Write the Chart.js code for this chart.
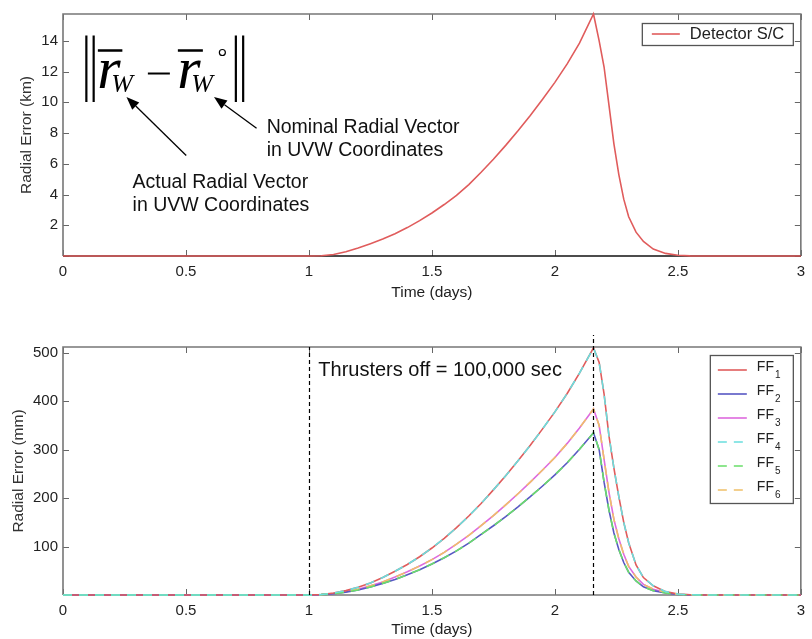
<!DOCTYPE html>
<html>
<head>
<meta charset="utf-8">
<script src="https://cdn.jsdelivr.net/npm/chart.js@4/dist/chart.umd.min.js"></script>
<style>
  html, body { margin: 0; padding: 0; background: #fff; }
  #page { position: relative; width: 812px; height: 639px; overflow: hidden; }
  #page canvas { position: absolute; left: 0; }
</style>
</head>
<body>
<div id="page">
  <canvas id="detectorChart" width="812" height="305" style="top:0"></canvas>
  <canvas id="formationChart" width="812" height="319" style="top:320px"></canvas>
</div>
<script>
// Sample times (days) shared by every series
const TIME_DAYS = [0, 0.5, 1.0, 1.05, 1.1, 1.15, 1.2, 1.25, 1.3, 1.35, 1.4, 1.45, 1.5, 1.55, 1.6, 1.65,
  1.7, 1.75, 1.8, 1.85, 1.9, 1.95, 2.0, 2.05, 2.1, 2.157, 2.18, 2.2, 2.22, 2.24, 2.26, 2.28, 2.3,
  2.33, 2.36, 2.4, 2.45, 2.5, 2.55, 2.6, 3.0];

// Detector spacecraft radial error (km)
const DETECTOR_KM = [0, 0, 0, 0.02, 0.1, 0.28, 0.52, 0.8, 1.1, 1.45, 1.85, 2.3, 2.8, 3.35, 3.95, 4.65,
  5.45, 6.3, 7.2, 8.15, 9.15, 10.2, 11.3, 12.5, 13.85, 15.75, 14.0, 12.3, 9.8, 7.3, 5.3, 3.7, 2.55,
  1.55, 0.95, 0.45, 0.17, 0.05, 0.01, 0, 0];

// Formation flyer radial errors (mm)
const FF1_MM = [0, 0, 0, 1, 4, 9, 16, 25, 36, 49, 63, 79, 97, 117, 139, 163,
  189, 217, 246, 277, 309, 343, 378, 416, 458, 510, 480, 415, 328, 262, 203, 150, 108,
  62, 36, 19, 7, 2, 0.5, 0, 0];
const FF2_MM = [0, 0, 0, 0.7, 2.6, 6, 10.5, 16.5, 24, 32, 42, 52, 64, 77, 91, 107,
  125, 143, 162, 182, 203, 225, 248, 273, 301, 335, 300, 233, 175, 128, 94, 67, 47,
  29, 17, 9, 4, 1, 0.3, 0, 0];
const FF3_MM = [0, 0, 0, 0.8, 3, 7, 12, 19, 27, 37, 48, 60, 73, 88, 105, 123,
  143, 164, 186, 209, 233, 258, 284, 313, 345, 384, 350, 280, 212, 156, 116, 84, 59,
  37, 22, 12, 5, 1.5, 0.4, 0, 0];
const FF4_MM = [0, 0, 0, 1, 4, 9, 16, 25, 36, 49, 63, 79, 97, 117, 139, 163,
  189, 217, 246, 277, 309, 343, 378, 416, 458, 510, 480, 415, 328, 262, 203, 150, 108,
  62, 36, 19, 7, 2, 0.5, 0, 0];
const FF5_MM = [0, 0, 0, 0.7, 2.6, 6, 10.5, 16.5, 24, 32, 42, 52, 64, 77, 91, 107,
  125, 143, 162, 182, 203, 225, 248, 273, 301, 335, 300, 233, 175, 128, 94, 67, 47,
  29, 17, 9, 4, 1, 0.3, 0, 0];
const FF6_MM = [0, 0, 0, 0.8, 3, 7, 12, 19, 27, 37, 48, 60, 73, 88, 105, 123,
  143, 164, 186, 209, 233, 258, 284, 313, 345, 384, 350, 280, 212, 156, 116, 84, 59,
  37, 22, 12, 5, 1.5, 0.4, 0, 0];

const SERIES_NAMES = ['FF1', 'FF2', 'FF3', 'FF4', 'FF5', 'FF6'];

// Axis ticks
const TIME_TICKS = [0, 0.5, 1, 1.5, 2, 2.5, 3];
const KM_TICKS = [0, 2, 4, 6, 8, 10, 12, 14];
const MM_TICKS = [0, 100, 200, 300, 400, 500];

// Thrusters-off window: start of coast and end (start + 100,000 s)
const THRUST_OFF_DAYS = [1.0, 2.157];

const pairs = (xs, ys) => xs.map((t, i) => ({ x: t, y: ys[i] }));

const SANS = 'Liberation Sans';
const TICK_FONT = { family: SANS, size: 15 };
const TEXT_COLOR = '#222';

// Box frame with inward tick marks on all four sides, drawn beneath the data
const boxFrame = {
  id: 'boxFrame',
  beforeDatasetsDraw(chart, args, opts) {
    const { ctx, chartArea: a, scales: { x, y } } = chart;
    ctx.save();
    ctx.strokeStyle = '#666';
    ctx.lineWidth = 1;
    const L = 6;
    ctx.beginPath();
    x.ticks.forEach(t => {
      const px = Math.round(x.getPixelForValue(t.value)) + 0.5;
      ctx.moveTo(px, a.bottom); ctx.lineTo(px, a.bottom - L);
      ctx.moveTo(px, a.top); ctx.lineTo(px, a.top + L);
    });
    y.ticks.forEach(t => {
      const py = Math.round(y.getPixelForValue(t.value)) + 0.5;
      ctx.moveTo(a.left, py); ctx.lineTo(a.left + L, py);
      ctx.moveTo(a.right, py); ctx.lineTo(a.right - L, py);
    });
    ctx.stroke();
    ctx.lineWidth = 1.6;
    ctx.strokeStyle = '#777';
    ctx.beginPath();
    ctx.moveTo(a.left, a.bottom); ctx.lineTo(a.left, a.top); ctx.lineTo(a.right, a.top); ctx.lineTo(a.right, a.bottom);
    ctx.stroke();
    ctx.strokeStyle = opts.baseColor || '#777';
    ctx.beginPath();
    ctx.moveTo(a.left, a.bottom); ctx.lineTo(a.right, a.bottom);
    ctx.stroke();
    ctx.restore();
  }
};

// Legend box inside the plot's upper right corner
const cornerLegend = {
  id: 'cornerLegend',
  afterDraw(chart, args, opts) {
    const { ctx, chartArea: a } = chart;
    const ds = chart.data.datasets;
    ctx.save();
    const left = a.right - opts.right - opts.width;
    const top = a.top + opts.top;
    ctx.fillStyle = '#fff';
    ctx.fillRect(left, top, opts.width, opts.height);
    ctx.strokeStyle = '#555';
    ctx.lineWidth = 1.3;
    ctx.strokeRect(left + 0.5, top + 0.5, opts.width, opts.height);
    ds.forEach((d, i) => {
      const cy = top + opts.firstRow + i * opts.rowGap;
      ctx.strokeStyle = d.borderColor;
      ctx.lineWidth = d.borderWidth;
      ctx.setLineDash(d.borderDash || []);
      ctx.beginPath();
      ctx.moveTo(left + opts.sampleX, cy);
      ctx.lineTo(left + opts.sampleX + opts.sampleLen, cy);
      ctx.stroke();
      ctx.setLineDash([]);
      ctx.fillStyle = TEXT_COLOR;
      ctx.textAlign = 'left';
      const m = /^(\D+)(\d+)$/.exec(d.label);
      const tx = left + opts.textX;
      if (m && opts.subscript) {
        ctx.font = opts.font;
        ctx.textBaseline = 'alphabetic';
        ctx.fillText(m[1], tx, cy + 1);
        const w = ctx.measureText(m[1]).width;
        ctx.font = opts.subFont;
        ctx.fillText(m[2], tx + w + 1, cy + 8);
      } else {
        ctx.font = opts.font;
        ctx.textBaseline = 'middle';
        ctx.fillText(d.label, tx, cy + 0.5);
      }
    });
    ctx.restore();
  }
};

function arrow(ctx, x0, y0, x1, y1) {
  const ang = Math.atan2(y1 - y0, x1 - x0);
  const hl = 13, hw = 5;
  const bx = x1 - hl * Math.cos(ang), by = y1 - hl * Math.sin(ang);
  ctx.beginPath();
  ctx.moveTo(x0, y0); ctx.lineTo(bx, by);
  ctx.stroke();
  ctx.beginPath();
  ctx.moveTo(x1, y1);
  ctx.lineTo(bx + hw * Math.sin(ang), by - hw * Math.cos(ang));
  ctx.lineTo(bx - hw * Math.sin(ang), by + hw * Math.cos(ang));
  ctx.closePath();
  ctx.fill();
}

// Norm expression ||r_W - r_W°|| with callouts
const normNote = {
  id: 'normNote',
  afterDatasetsDraw(chart) {
    const { ctx, scales: { x, y } } = chart;
    const ox = x.getPixelForValue(0.095), oy = y.getPixelForValue(14.35);
    ctx.save();
    ctx.strokeStyle = '#000';
    ctx.fillStyle = '#000';
    ctx.lineWidth = 2.2;
    ctx.beginPath();
    [0, 7.3, 149.5, 156.8].forEach(dx => { ctx.moveTo(ox + dx, oy); ctx.lineTo(ox + dx, oy + 66.5); });
    ctx.stroke();
    ctx.textAlign = 'left';
    ctx.textBaseline = 'alphabetic';
    ctx.font = 'italic 60px "Liberation Serif"';
    ctx.fillText('r', ox + 11, oy + 52);
    ctx.fillText('r', ox + 91, oy + 52);
    ctx.font = 'italic 26px "Liberation Serif"';
    ctx.fillText('W', ox + 25, oy + 56.5);
    ctx.fillText('W', ox + 105, oy + 56.5);
    ctx.lineWidth = 2.4;
    ctx.beginPath();
    ctx.moveTo(ox + 11.5, oy + 15); ctx.lineTo(ox + 36, oy + 15);
    ctx.moveTo(ox + 91.5, oy + 15); ctx.lineTo(ox + 116.5, oy + 15);
    ctx.stroke();
    ctx.lineWidth = 2;
    ctx.beginPath();
    ctx.moveTo(ox + 61.5, oy + 38); ctx.lineTo(ox + 83.5, oy + 38);
    ctx.stroke();
    ctx.lineWidth = 1.2;
    ctx.beginPath();
    ctx.arc(ox + 136, oy + 17, 3, 0, Math.PI * 2);
    ctx.stroke();

    ctx.lineWidth = 1.3;
    arrow(ctx, x.getPixelForValue(0.501), y.getPixelForValue(6.54), x.getPixelForValue(0.258), y.getPixelForValue(10.35));
    arrow(ctx, x.getPixelForValue(0.787), y.getPixelForValue(8.32), x.getPixelForValue(0.614), y.getPixelForValue(10.35));

    ctx.font = '19.5px "Liberation Sans"';
    ctx.fillStyle = '#111';
    ctx.textBaseline = 'middle';
    const nx = x.getPixelForValue(0.828), ny = y.getPixelForValue(8.38);
    ctx.fillText('Nominal Radial Vector', nx, ny);
    ctx.fillText('in UVW Coordinates', nx, ny + 23);
    const ax = x.getPixelForValue(0.283), ay = y.getPixelForValue(4.76);
    ctx.fillText('Actual Radial Vector', ax, ay);
    ctx.fillText('in UVW Coordinates', ax, ay + 22.5);
    ctx.restore();
  }
};

// Dashed markers bounding the thrusters-off interval
const thrustNote = {
  id: 'thrustNote',
  afterDatasetsDraw(chart) {
    const { ctx, scales: { x, y } } = chart;
    ctx.save();
    ctx.strokeStyle = '#000';
    ctx.lineWidth = 1.2;
    ctx.setLineDash([4, 3]);
    const tops = [512, 537];
    THRUST_OFF_DAYS.forEach((d, i) => {
      const px = Math.round(x.getPixelForValue(d)) + 0.5;
      ctx.beginPath();
      ctx.moveTo(px, y.getPixelForValue(0));
      ctx.lineTo(px, y.getPixelForValue(tops[i]));
      ctx.stroke();
    });
    ctx.setLineDash([]);
    ctx.fillStyle = '#111';
    ctx.font = '20px "Liberation Sans"';
    ctx.textAlign = 'left';
    ctx.textBaseline = 'middle';
    ctx.fillText('Thrusters off = 100,000 sec', x.getPixelForValue(1.038), y.getPixelForValue(464.5));
    ctx.restore();
  }
};

function timeAxis(height, titlePadBottom) {
  return {
    type: 'linear', min: 0, max: 3,
    afterBuildTicks: s => { s.ticks = TIME_TICKS.map(v => ({ value: v })); },
    afterFit: s => { s.height = height; },
    grid: { display: false, drawTicks: false },
    border: { display: false },
    ticks: { font: TICK_FONT, color: TEXT_COLOR, padding: 7, maxRotation: 0, autoSkip: false,
             callback: v => String(v) },
    title: { display: true, text: 'Time (days)', color: TEXT_COLOR,
             font: { family: SANS, size: 15.5 }, padding: { top: 0, bottom: titlePadBottom } }
  };
}

function errorAxis(max, tickValues, title, titlePadTop) {
  return {
    type: 'linear', min: 0, max: max,
    afterBuildTicks: s => { s.ticks = tickValues.map(v => ({ value: v })); },
    afterFit: s => { s.width = 63; },
    grid: { display: false, drawTicks: false },
    border: { display: false },
    ticks: { font: TICK_FONT, color: TEXT_COLOR, padding: 5, autoSkip: false,
             callback: v => (v === 0 ? '' : String(v)) },
    title: { display: true, text: title, color: '#333',
             font: { family: SANS, size: 15.5 }, padding: { top: titlePadTop, bottom: 0 } }
  };
}

const lineStyle = { pointRadius: 0, borderWidth: 1.6, tension: 0, clip: 3, fill: false };

new Chart(document.getElementById('detectorChart'), {
  type: 'line',
  data: {
    datasets: [
      { label: 'Detector S/C', data: pairs(TIME_DAYS, DETECTOR_KM), borderColor: '#e05c5c', ...lineStyle }
    ]
  },
  options: {
    responsive: false, animation: false, events: [],
    layout: { padding: { left: 0, right: 6, top: 8, bottom: 0 } },
    plugins: {
      legend: { display: false }, tooltip: { enabled: false },
      boxFrame: { baseColor: '#111' },
      cornerLegend: { width: 151, height: 22, right: 8, top: 9, firstRow: 11, rowGap: 24,
                      sampleX: 10, sampleLen: 28, textX: 48, font: '16.5px "Liberation Sans"' }
    },
    scales: {
      x: timeAxis(49, 3),
      y: errorAxis(15.75, KM_TICKS, 'Radial Error (km)', 17)
    }
  },
  plugins: [boxFrame, normNote, cornerLegend]
});

const FF_COLORS = ['#e05c5c', '#5858c4', '#de6ade', '#6adede', '#6ade6a', '#f0c068'];
const FF_VALUES = [FF1_MM, FF2_MM, FF3_MM, FF4_MM, FF5_MM, FF6_MM];

new Chart(document.getElementById('formationChart'), {
  type: 'line',
  data: {
    datasets: SERIES_NAMES.map((name, i) => ({
      label: name,
      data: pairs(TIME_DAYS, FF_VALUES[i]),
      borderColor: FF_COLORS[i],
      borderDash: i >= 3 ? [9, 7] : [],
      order: i >= 3 ? 1 : 2,
      ...lineStyle
    }))
  },
  options: {
    responsive: false, animation: false, events: [],
    layout: { padding: { left: 0, right: 6, top: 27, bottom: 0 } },
    plugins: {
      legend: { display: false }, tooltip: { enabled: false },
      boxFrame: { baseColor: '#777' },
      cornerLegend: { width: 83, height: 148, right: 8, top: 8, firstRow: 15, rowGap: 24,
                      sampleX: 8, sampleLen: 29, textX: 47, subscript: true,
                      font: '14px "Liberation Sans"', subFont: '10px "Liberation Sans"' }
    },
    scales: {
      x: timeAxis(44, 0),
      y: errorAxis(512, MM_TICKS, 'Radial Error (mm)', 9)
    }
  },
  plugins: [boxFrame, thrustNote, cornerLegend]
});
</script>
</body>
</html>
